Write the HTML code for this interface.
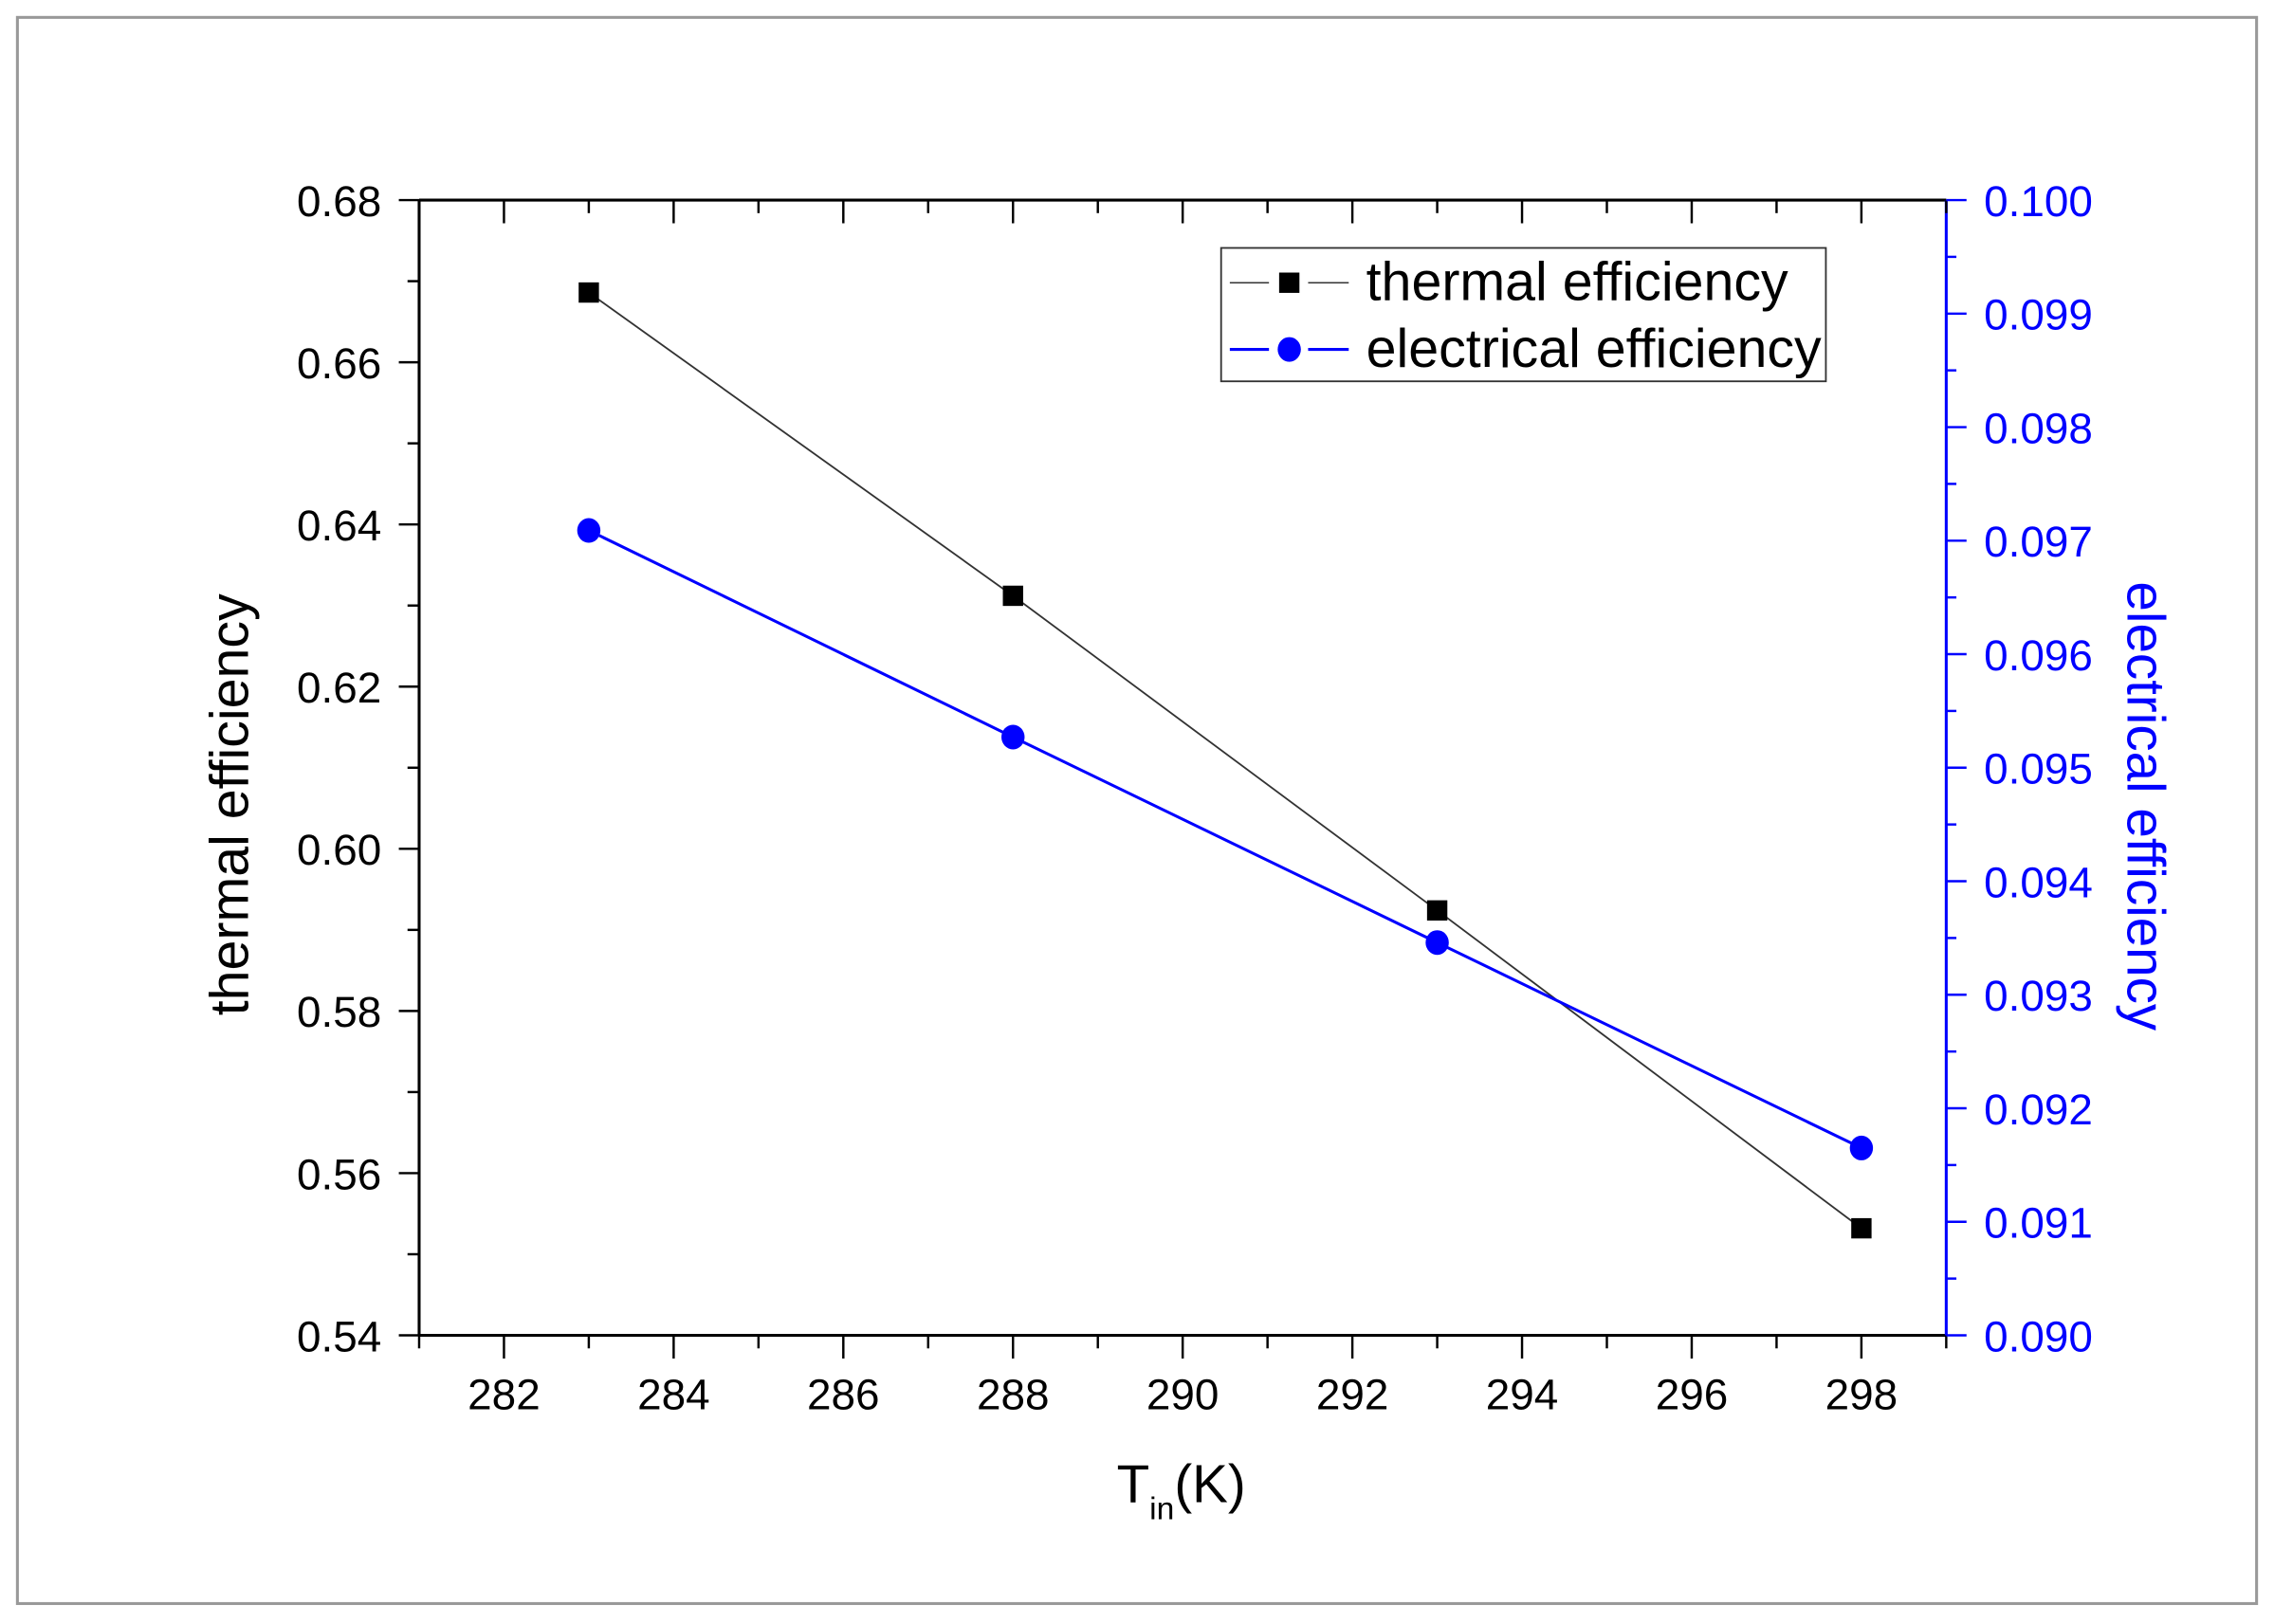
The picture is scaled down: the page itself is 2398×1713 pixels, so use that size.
<!DOCTYPE html>
<html><head><meta charset="utf-8"><style>
html,body{margin:0;padding:0;background:#fff;}
svg{display:block;font-family:"Liberation Sans",Arial,sans-serif;}
</style></head><body>
<svg id="chart" width="2398" height="1713" viewBox="0 0 1568 1120.1" xmlns="http://www.w3.org/2000/svg">
<rect x="12" y="12" width="1544" height="1094" fill="#fff" stroke="#999" stroke-width="2"/>
<g id="axes"></g>
<g id="series"></g>
<g>
  <rect x="842" y="171" width="417" height="92" fill="#fff" stroke="#333" stroke-width="1.2"/>
  <g>
    <line x1="848" y1="195" x2="875" y2="195" stroke="#333" stroke-width="1"/>
    <line x1="902" y1="195" x2="930" y2="195" stroke="#333" stroke-width="1"/>
    <rect x="882" y="188" width="14" height="14" fill="#000"/>
    <text x="942" y="207" font-size="37.5" fill="#000">thermal efficiency</text>
  </g>
  <g>
    <line x1="848" y1="241" x2="875" y2="241" stroke="#00f" stroke-width="2"/>
    <line x1="902" y1="241" x2="930" y2="241" stroke="#00f" stroke-width="2"/>
    <ellipse cx="889" cy="241" rx="8" ry="8.5" fill="#00f"/>
    <text x="942" y="253" font-size="37.5" fill="#000">electrical efficiency</text>
  </g>
</g>
<text font-size="37.5" fill="#000" text-anchor="middle" transform="translate(171 555) rotate(-90)">thermal efficiency</text>
<text font-size="37" fill="#00f" text-anchor="middle" transform="translate(1467 556) rotate(90)">electrical efficiency</text>
<text x="770" y="1036" font-size="37" fill="#000">T<tspan font-size="22" dy="12">in</tspan><tspan dy="-12">(K)</tspan></text>
</svg>
<script>
const xValues = [283, 288, 293, 298];
const thermalValues = [0.6686, 0.6312, 0.5924, 0.5532];
const electricalValues = [0.09709, 0.09527, 0.09346, 0.09165];
const xTickLabels = ["282","284","286","288","290","292","294","296","298"];
const leftTickLabels = ["0.54","0.56","0.58","0.60","0.62","0.64","0.66","0.68"];
const rightTickLabels = ["0.090","0.091","0.092","0.093","0.094","0.095","0.096","0.097","0.098","0.099","0.100"];

const NS = "http://www.w3.org/2000/svg";
const L = 289, R = 1342, T = 138, B = 921;
const xMin = 281, xMax = 299, yMin = 0.54, yMax = 0.68, y2Min = 0.090, y2Max = 0.100;
const sx = v => L + (v - xMin) / (xMax - xMin) * (R - L);
const sy = v => B - (v - yMin) / (yMax - yMin) * (B - T);
const sy2 = v => B - (v - y2Min) / (y2Max - y2Min) * (B - T);
const axes = document.getElementById('axes');
const series = document.getElementById('series');
function mk(tag, attrs, parent) {
  const e = document.createElementNS(NS, tag);
  for (const k in attrs) e.setAttribute(k, attrs[k]);
  parent.appendChild(e);
  return e;
}
function line(x1, y1, x2, y2, c, w, p) { return mk('line', {x1, y1, x2, y2, stroke: c, 'stroke-width': w}, p); }

let a;
a = line(L, B, R, B, '#000', 2, axes);


a = line(L, T, R, T, '#000', 2, axes);


a = line(L, T, L, B, '#000', 2, axes);


a = line(R, T, R, B, '#00f', 2, axes);



for (let v = xMin; v <= xMax; v++) {
  const x = sx(v), major = v % 2 === 0;
  line(x, B, x, B + (major ? 16 : 9), '#000', 1.6, axes);
  line(x, T, x, T + (major ? 16 : 9), '#000', 1.6, axes);
}
xTickLabels.forEach(s => {
  const t = mk('text', {x: sx(+s), y: 972, 'font-size': 30, 'text-anchor': 'middle', fill: '#000'}, axes);
  
  
  t.textContent = s;
});
for (let i = 0; i <= 14; i++) {
  const y = sy(yMin + i * 0.01), major = i % 2 === 0;
  line(L - (major ? 14 : 8), y, L, y, '#000', 1.6, axes);
}
leftTickLabels.forEach(s => {
  const t = mk('text', {x: 263, y: sy(+s) + 11, 'font-size': 30, 'text-anchor': 'end', fill: '#000'}, axes);
  
  
  t.textContent = s;
});
for (let i = 0; i <= 20; i++) {
  const y = sy2(y2Min + i * 0.0005), major = i % 2 === 0;
  line(R, y, R + (major ? 14 : 7), y, '#00f', 1.6, axes);
}
rightTickLabels.forEach(s => {
  const t = mk('text', {x: 1368, y: sy2(+s) + 11, 'font-size': 30, 'text-anchor': 'start', fill: '#00f'}, axes);
  
  
  t.textContent = s;
});

const tp = mk('polyline', {points: xValues.map((x, i) => sx(x) + ',' + sy(thermalValues[i])).join(' '), fill: 'none', stroke: '#333', 'stroke-width': 1.2}, series);


const ep = mk('polyline', {points: xValues.map((x, i) => sx(x) + ',' + sy2(electricalValues[i])).join(' '), fill: 'none', stroke: '#00f', 'stroke-width': 2}, series);


xValues.forEach((x, i) => {
  const r = mk('rect', {x: sx(x) - 7, y: sy(thermalValues[i]) - 7, width: 14, height: 14, fill: '#000'}, series);
  
  
  const c = mk('ellipse', {cx: sx(x), cy: sy2(electricalValues[i]), rx: 8, ry: 8.5, fill: '#00f'}, series);
  
  
});
</script>
</body></html>
